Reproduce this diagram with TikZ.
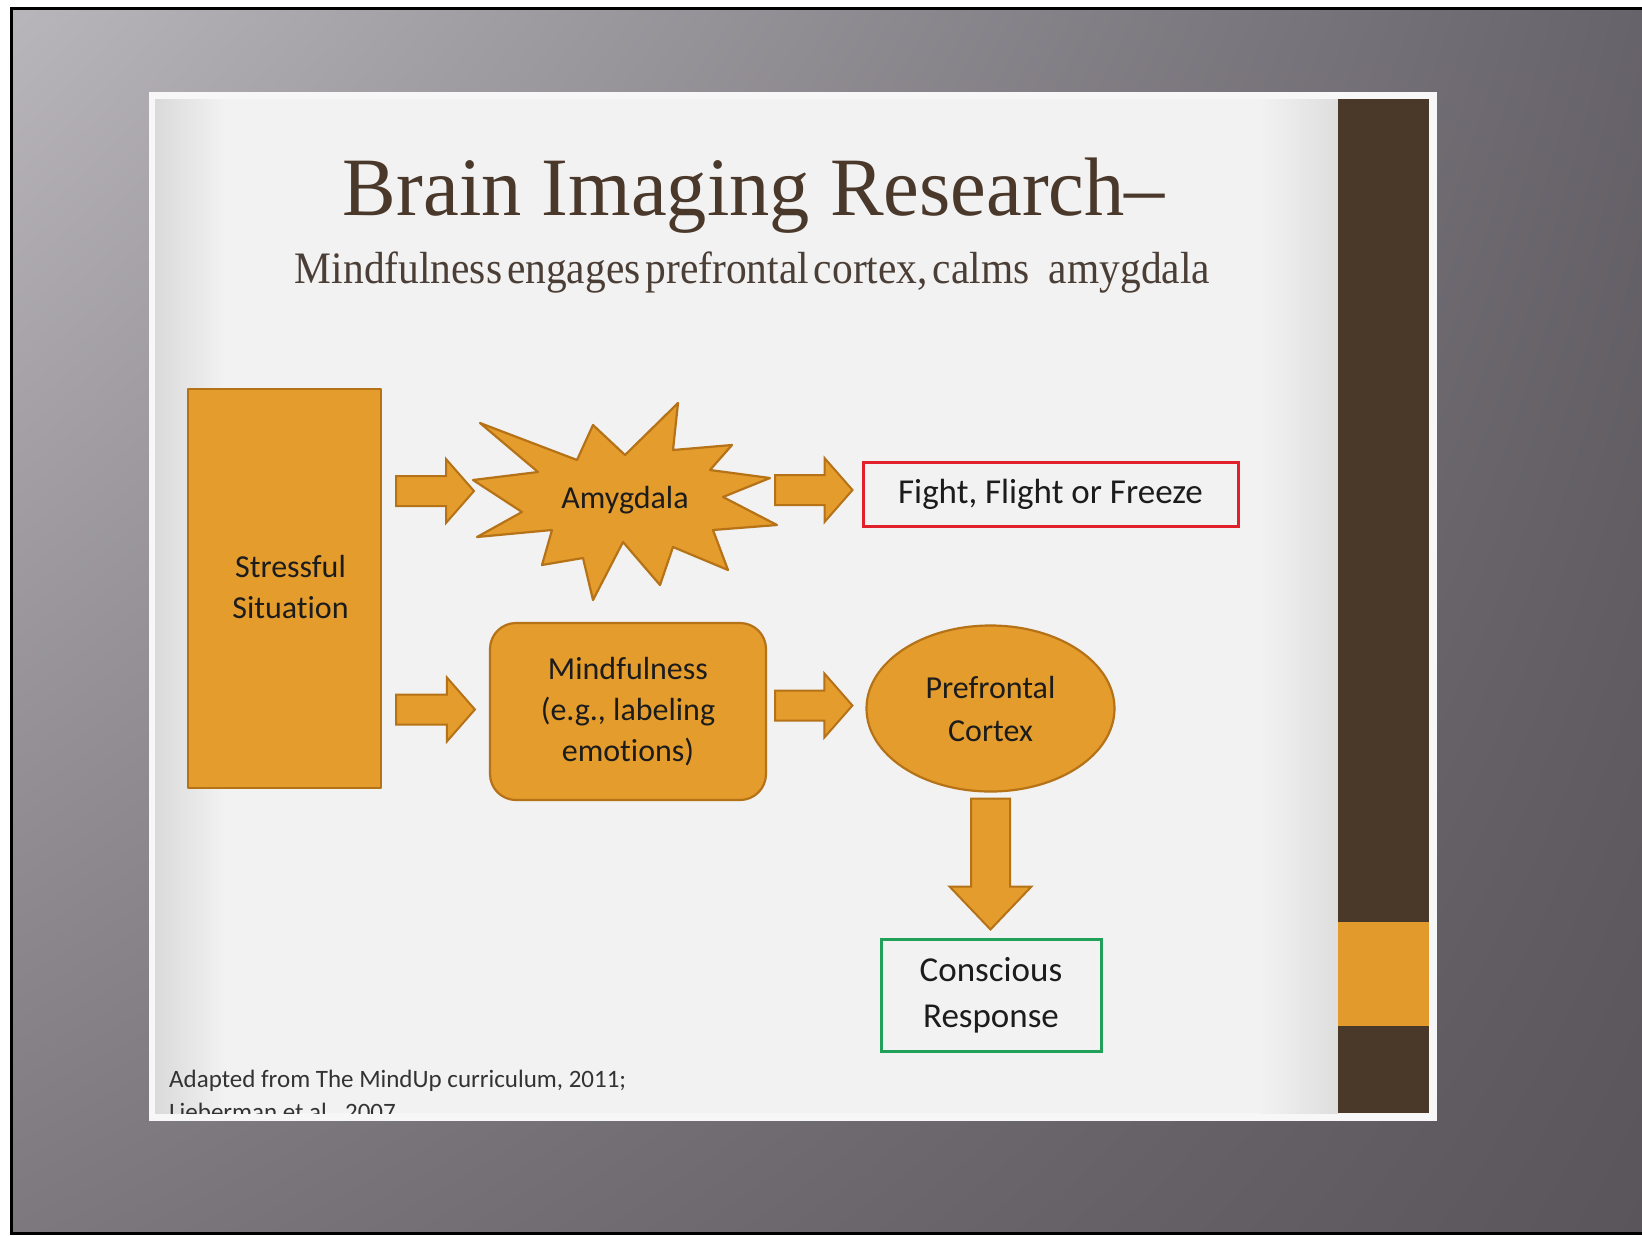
\documentclass[tikz,border=0pt]{standalone}
\usepackage{fontspec}
\usepackage{graphicx}
\setmainfont{Carlito}[Ligatures=NoCommon]
\newfontfamily\titlefont{Liberation Serif}
\usetikzlibrary{calc,shapes.geometric,shadings}
\definecolor{orfill}{HTML}{E49C2C}
\definecolor{ordraw}{HTML}{B57217}
\definecolor{brownbar}{HTML}{4A3829}
\definecolor{orband}{HTML}{E39A2C}
\definecolor{titlecol}{HTML}{4A382B}
\definecolor{subcol}{HTML}{4B3E36}
\definecolor{slidebg}{HTML}{F2F2F2}
\definecolor{slideframe}{HTML}{F7F7F7}
\definecolor{redbox}{HTML}{E0212B}
\definecolor{greenbox}{HTML}{21A05A}
\definecolor{txt}{HTML}{1C1C1C}
\definecolor{footcol}{HTML}{333333}
\definecolor{bgUL}{HTML}{B8B5BB}
\definecolor{bgUR}{HTML}{67636A}
\definecolor{bgLL}{HTML}{7C787E}
\definecolor{bgLR}{HTML}{59555A}
\definecolor{vigL}{HTML}{DADADA}
\definecolor{vigR}{HTML}{DEDEDE}
\tikzset{
  oshape/.style={fill=orfill, draw=ordraw, line width=2.2pt, line join=round},
  lbl/.style={text=txt, font=\fontsize{32pt}{41pt}\selectfont, align=center},
  barrow/.style={fill=orfill, draw=ordraw, line width=2pt, line join=miter},
}
\newcommand\BlockArrowH[2]{\draw[barrow] let \p1=(#1), \p2=(#2) in
  (\x1,\y2+15pt) -- (\x2-28pt,\y2+15pt) -- (\x2-28pt,\y2+32pt) -- (\x2,\y2)
  -- (\x2-28pt,\y2-32pt) -- (\x2-28pt,\y2-15pt) -- (\x1,\y2-15pt) -- cycle;}
\newcommand\BlockArrowV[2]{\draw[barrow] let \p1=(#1), \p2=(#2) in
  (\x1-19.5pt,\y1) -- (\x1-19.5pt,\y2+43pt) -- (\x1-41pt,\y2+43pt) -- (\x1,\y2)
  -- (\x1+41pt,\y2+43pt) -- (\x1+19.5pt,\y2+43pt) -- (\x1+19.5pt,\y1) -- cycle;}
\begin{document}
\begin{tikzpicture}[x=1pt,y=-1pt]
\useasboundingbox (0,0) rectangle (1642,1235);
% backdrop
\fill[white] (0,0) rectangle (1642,1235);
\shade[upper left=bgUL, upper right=bgUR, lower left=bgLL, lower right=bgLR] (11,8) rectangle (1642,1233);
\draw[black, line width=3pt] (1650,8) -- (11,8) -- (11,1233) -- (1650,1233);
% slide
\fill[slideframe] (149,92) rectangle (1437,1121);
\fill[slidebg] (155,99) rectangle (1338,1113);
\shade[left color=vigL, right color=slidebg] (155,99) rectangle (225,1113);
\shade[left color=slidebg, right color=vigR] (1260,99) rectangle (1338,1113);
\fill[brownbar] (1338,99) rectangle (1429,1113);
\fill[orband] (1338,922) rectangle (1429,1026);
% title
\node[anchor=base, text=titlecol, inner sep=0] (title) at (754,215)
  {\resizebox{822pt}{\height}{\titlefont\fontsize{83pt}{90pt}\selectfont Brain Imaging Research–}};
\node[anchor=base, text=subcol, inner sep=0] (sub) at (752.5,283)
  {\resizebox{915pt}{\height}{\titlefont\fontsize{45pt}{50pt}\selectfont\spaceskip=0.12em Mindfulness engages prefrontal cortex, calms\hspace{0.35em} amygdala}};
% star
\draw[oshape] (480,423) -- (577,460) -- (593,425) -- (625,455) -- (678,403) -- (673,450)
  -- (732,445) -- (710,470) -- (770,478) -- (723,497) -- (777,525) -- (713,530)
  -- (728,570) -- (673,547) -- (660,585) -- (623,542) -- (593,600) -- (583,558)
  -- (542,565) -- (552,530) -- (477,537) -- (522,512) -- (473,480) -- (538,472) -- cycle;
\node[lbl, inner sep=0] (amyg) at (625,500) {Amygdala};
\coordinate (amygL) at (474,491);
\coordinate (amygR) at (775,490);
% nodes
\node[oshape, rectangle, minimum width=193pt, minimum height=399pt, inner sep=0] (stress) at (284.5,588.5) {};
\node[lbl, inner sep=0] (stresstxt) at ($(stress.center)+(6,-2)$) {Stressful\\Situation};
\node[oshape, rectangle, rounded corners=26pt, minimum width=276pt, minimum height=177pt, inner sep=0, lbl] (mind) at (628,711.5) {Mindfulness\\(e.g., labeling\\emotions)};
\node[oshape, ellipse, minimum width=248pt, minimum height=166pt, inner sep=0, lbl, font=\fontsize{32pt}{43pt}\selectfont] (pfc) at (990.5,708.5) {Prefrontal\\Cortex};
\node[draw=redbox, line width=3pt, rectangle, minimum width=375pt, minimum height=64pt, inner sep=0, text=txt, font=\fontsize{35pt}{42pt}\selectfont] (fight) at (1050.5,494) {Fight, Flight or Freeze};
\node[draw=greenbox, line width=3pt, rectangle, minimum width=220pt, minimum height=112pt, inner sep=0, text=txt, align=center, font=\fontsize{35pt}{46pt}\selectfont] (resp) at (991,995) {Conscious\\Response};
% block arrows
\BlockArrowH{$(stress.east|-amygL)+(14,0)$}{amygL}
\BlockArrowH{$(stress.east|-mind.west)+(14,0)$}{$(mind.west)+(-14,-2)$}
\BlockArrowH{amygR}{$(fight.west)+(-9,-4)$}
\BlockArrowH{$(mind.east)+(8,0)$}{$(pfc.west)+(-13,-3)$}
\BlockArrowV{$(pfc.south)+(0,6)$}{$(resp.north)+(0,-8)$}
% footer
\begin{scope}
\clip (155,99) rectangle (1338,1113);
\node[anchor=base west, inner sep=0, text=footcol, font=\fontsize{25pt}{33pt}\selectfont] (foot1) at (169,1087) {Adapted from The MindUp curriculum, 2011;};
\node[anchor=base west, inner sep=0, text=footcol, font=\fontsize{25pt}{33pt}\selectfont] (foot2) at (169,1120) {Lieberman et al., 2007};
\end{scope}
\end{tikzpicture}
\end{document}
